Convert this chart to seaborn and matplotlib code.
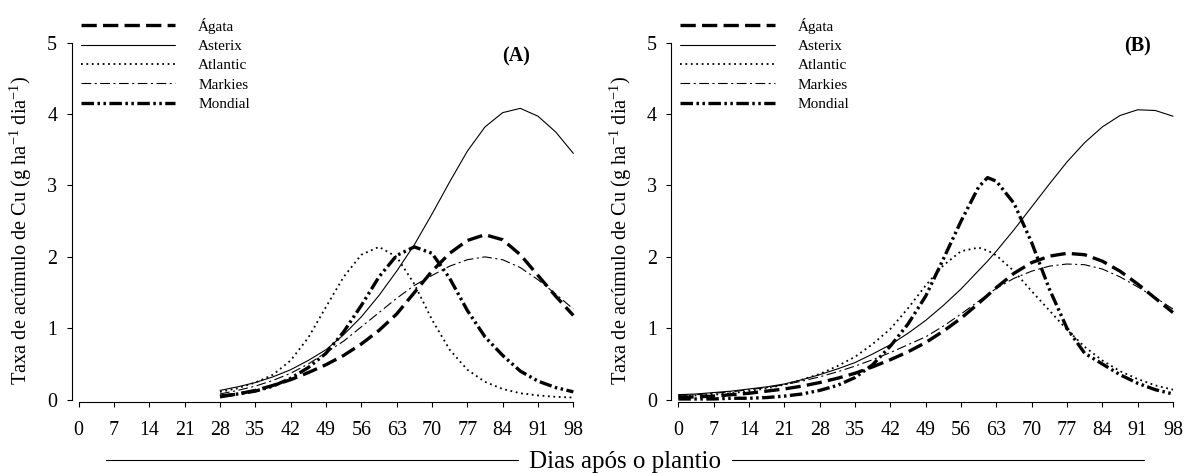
import matplotlib
matplotlib.use('Agg')
import matplotlib.pyplot as plt
from matplotlib.lines import Line2D
import seaborn as sns
import pandas as pd

# cultivars (legend order)
cultivars = ['Ágata', 'Asterix', 'Atlantic', 'Markies', 'Mondial']

# panel A - days after planting and Cu accumulation rate (g/ha/day)
days_a = [28, 31.5, 35, 38.5, 42, 45.5, 49, 52.5, 56, 59.5, 63, 66.5, 70,
          73.5, 77, 80.5, 84, 87.5, 91, 94.5, 98]
agata_a = [0.04, 0.08, 0.13, 0.20, 0.28, 0.38, 0.49, 0.62, 0.78, 0.97, 1.20,
           1.50, 1.80, 2.05, 2.23, 2.31, 2.24, 2.03, 1.74, 1.45, 1.18]
asterix_a = [0.13, 0.18, 0.24, 0.32, 0.42, 0.55, 0.70, 0.91, 1.16, 1.46, 1.80,
             2.17, 2.60, 3.05, 3.48, 3.82, 4.02, 4.08, 3.97, 3.75, 3.45]
atlantic_a = [0.11, 0.16, 0.24, 0.35, 0.55, 0.87, 1.30, 1.72, 2.03, 2.14, 2.00,
              1.62, 1.12, 0.70, 0.42, 0.25, 0.15, 0.09, 0.06, 0.04, 0.03]
markies_a = [0.08, 0.13, 0.19, 0.27, 0.37, 0.50, 0.66, 0.82, 1.02, 1.22, 1.42,
             1.60, 1.74, 1.87, 1.96, 2.00, 1.96, 1.85, 1.68, 1.48, 1.27]
mondial_a = [0.05, 0.08, 0.12, 0.19, 0.30, 0.45, 0.65, 0.95, 1.32, 1.72, 2.02,
             2.14, 2.05, 1.70, 1.25, 0.88, 0.62, 0.40, 0.26, 0.17, 0.11]

# panel B
days_b = [0, 3.5, 7, 10.5, 14, 17.5, 21, 24.5, 28, 31.5, 35, 38.5, 42, 45.5,
          49, 52.5, 56, 59.5, 61.25, 63, 66.5, 70, 73.5, 77, 80.5, 84, 87.5,
          91, 94.5, 98]
agata_b = [0.03, 0.04, 0.05, 0.07, 0.09, 0.12, 0.15, 0.19, 0.24, 0.30, 0.37,
           0.46, 0.56, 0.67, 0.80, 0.96, 1.14, 1.35, 1.46, 1.57, 1.77, 1.92,
           2.01, 2.05, 2.03, 1.94, 1.80, 1.62, 1.42, 1.22]
asterix_b = [0.07, 0.08, 0.10, 0.12, 0.15, 0.18, 0.22, 0.28, 0.35, 0.43, 0.52,
             0.64, 0.77, 0.93, 1.11, 1.32, 1.55, 1.81, 1.94, 2.08, 2.38, 2.70,
             3.02, 3.33, 3.60, 3.82, 3.98, 4.06, 4.05, 3.97]
atlantic_b = [0.05, 0.06, 0.07, 0.09, 0.12, 0.16, 0.21, 0.28, 0.36, 0.47, 0.60,
              0.78, 0.99, 1.28, 1.60, 1.88, 2.08, 2.13, 2.09, 2.02, 1.80, 1.52,
              1.25, 0.98, 0.74, 0.55, 0.40, 0.29, 0.20, 0.14]
markies_b = [0.06, 0.07, 0.09, 0.11, 0.14, 0.17, 0.21, 0.26, 0.32, 0.39, 0.47,
             0.56, 0.66, 0.77, 0.88, 1.03, 1.20, 1.38, 1.47, 1.56, 1.70, 1.80,
             1.87, 1.90, 1.89, 1.83, 1.72, 1.58, 1.43, 1.27]
mondial_b = [0.01, 0.01, 0.01, 0.02, 0.02, 0.03, 0.05, 0.08, 0.13, 0.20, 0.31,
             0.49, 0.75, 1.06, 1.45, 1.97, 2.50, 2.98, 3.11, 3.06, 2.75, 2.20,
             1.55, 1.00, 0.65, 0.50, 0.35, 0.23, 0.14, 0.08]

x_ticks = list(range(0, 99, 7))
y_ticks = [0, 1, 2, 3, 4, 5]
ylabel = 'Taxa de acúmulo de Cu (g ha$^{-1}$ dia$^{-1}$)'

# line look for each cultivar
line_styles = {
    'Ágata':    dict(lw=2.4, ls=(0, (11, 4.5))),
    'Asterix':  dict(lw=0.8, ls='-'),
    'Atlantic': dict(lw=1.3, ls=(0, (1.3, 2.6))),
    'Markies':  dict(lw=0.8, ls=(0, (7, 2.5, 1.5, 2.5))),
    'Mondial':  dict(lw=2.4, ls=(0, (9, 2.5, 1.8, 2.5, 1.8, 2.5))),
}

df_a = pd.DataFrame({'dia': days_a, 'Ágata': agata_a, 'Asterix': asterix_a,
                     'Atlantic': atlantic_a, 'Markies': markies_a, 'Mondial': mondial_a})
df_b = pd.DataFrame({'dia': days_b, 'Ágata': agata_b, 'Asterix': asterix_b,
                     'Atlantic': atlantic_b, 'Markies': markies_b, 'Mondial': mondial_b})

sns.set_style('ticks')
plt.rcParams['font.family'] = ['Liberation Serif', 'DejaVu Serif']
plt.rcParams['mathtext.fontset'] = 'custom'
plt.rcParams['mathtext.rm'] = 'Liberation Serif'
plt.rcParams['mathtext.it'] = 'Liberation Serif:italic'
plt.rcParams['lines.scale_dashes'] = False
plt.rcParams['axes.edgecolor'] = 'black'
plt.rcParams['xtick.color'] = 'black'
plt.rcParams['ytick.color'] = 'black'
plt.rcParams['text.color'] = 'black'
plt.rcParams['axes.labelcolor'] = 'black'

fig = plt.figure(figsize=(11.87, 4.73), dpi=100)
ax_a = fig.add_axes([0.0663, 0.155, 0.4167, 0.7548])
ax_b = fig.add_axes([0.5715, 0.155, 0.4167, 0.7548])

for ax, df, tag, tag_pos in [(ax_a, df_a, '(A)', (86.6, 4.8)), (ax_b, df_b, '(B)', (91, 4.95))]:
    for cv in cultivars:
        st = line_styles[cv]
        sns.lineplot(data=df, x='dia', y=cv, ax=ax, color='black', label=cv,
                     linewidth=st['lw'], linestyle=st['ls'], clip_on=False)
    ax.set_xlim(0, 98)
    ax.set_ylim(0, 5)
    ax.set_xticks(x_ticks)
    ax.set_yticks(y_ticks)
    ax.set_xlabel('')
    ax.set_ylabel(ylabel, fontsize=14.7)
    ax.yaxis.set_label_coords(-0.09, 0.475)
    sns.despine(ax=ax)
    ax.spines['left'].set_position(('outward', 5))
    ax.spines['bottom'].set_position(('outward', 2))
    ax.spines['left'].set_bounds(0, 5)
    ax.spines['bottom'].set_bounds(0, 98)
    for s in ['left', 'bottom']:
        ax.spines[s].set_linewidth(0.8)
    ax.tick_params(axis='both', direction='out', length=3.5, width=0.8, labelsize=14.4)
    ax.tick_params(axis='x', pad=9.5)
    ax.tick_params(axis='y', pad=7)
    ax.text(tag_pos[0], tag_pos[1], tag, fontsize=14.5, fontweight='bold',
            ha='center', va='center')
    ax.legend(loc='upper left', bbox_to_anchor=(0.004, 1.070), frameon=False,
              fontsize=11, handlelength=6.2, handletextpad=1.5, labelspacing=0.37,
              borderpad=0, borderaxespad=0)

# shared x label with rules on both sides
fig.text(625 / 1187, 1 - 468 / 473, 'Dias após o plantio', ha='center',
         va='baseline', fontsize=18)
fig.add_artist(Line2D([106 / 1187, 518 / 1187], [1 - 460 / 473] * 2, color='black', lw=0.8))
fig.add_artist(Line2D([732 / 1187, 1144 / 1187], [1 - 460 / 473] * 2, color='black', lw=0.8))

fig.savefig('out.png', dpi=100)
